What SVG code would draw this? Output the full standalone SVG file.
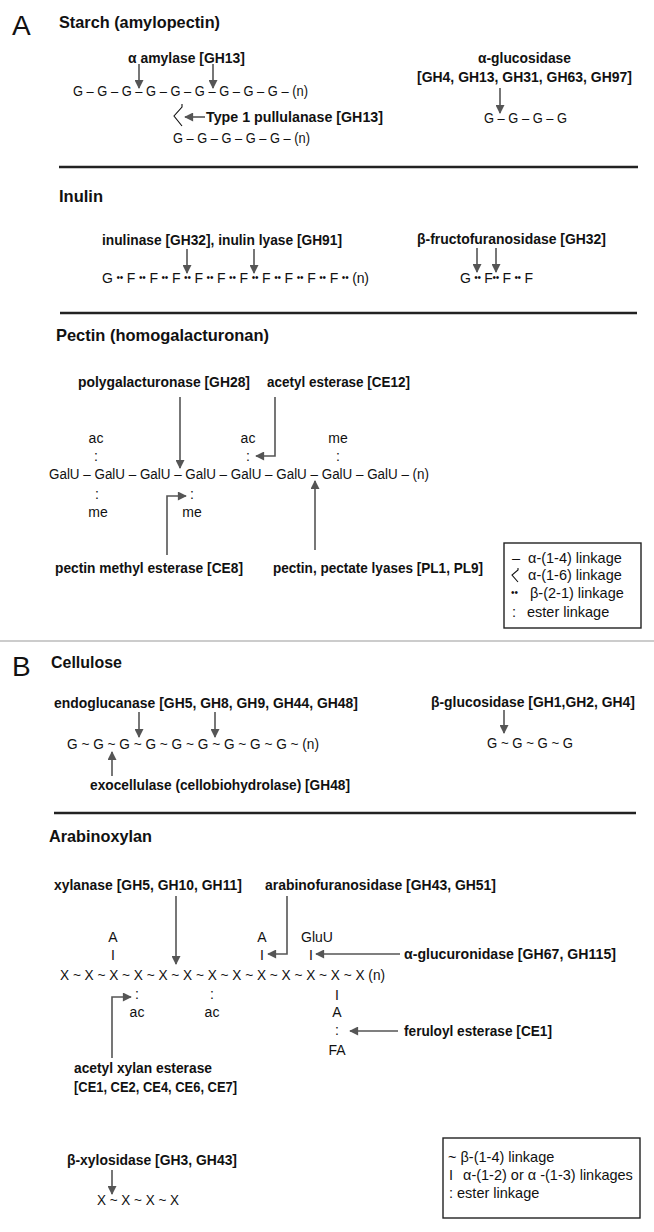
<svg xmlns="http://www.w3.org/2000/svg" width="654" height="1232" viewBox="0 0 654 1232">
<style>
text{font-family:"Liberation Sans",Arial,sans-serif;fill:#111}
.big{font-size:28px}
.h{font-size:17px;font-weight:bold}
.lb{font-size:14.4px;font-weight:bold}
.ch{font-size:14px}
.sm{font-size:14px}
.c{text-anchor:middle}
.lg{font-size:14.5px}
.dot{font-size:10px}
.ar{stroke:#555;stroke-width:1.6;fill:none;marker-end:url(#ah)}
.rule{stroke:#222;stroke-width:2.6}
.box{fill:none;stroke:#222;stroke-width:1.4}
.br{fill:none;stroke:#111;stroke-width:1.1}
</style>
<defs>
<marker id="ah" viewBox="0 0 10 10" refX="9" refY="5" markerWidth="11" markerHeight="9" orient="auto" markerUnits="userSpaceOnUse"><path d="M0,0 L10,5 L0,10 z" fill="#555"/></marker>
</defs>
<rect width="654" height="1232" fill="#fff"/>

<g id="panelA">
<text class="big" x="12" y="35">A</text>
</g>

<g id="starch">
<text class="h" x="59" y="28" textLength="161" lengthAdjust="spacingAndGlyphs">Starch (amylopectin)</text>
<line class="rule" x1="59" y1="167" x2="638" y2="167"/>
</g>
<g id="alpha-amylase"><text class="lb" x="128" y="63" textLength="117" lengthAdjust="spacingAndGlyphs">α amylase [GH13]</text></g>
<g id="starch-chain">
<text class="ch" x="73" y="96" textLength="235" lengthAdjust="spacingAndGlyphs">G – G – G – G – G – G – G – G – G – (n)</text>
<path class="br" d="M182 104 L182 107 L174 116 L182 126"/>
<text class="ch" x="173" y="143" textLength="137" lengthAdjust="spacingAndGlyphs">G – G – G – G – G – (n)</text>
</g>
<g id="pullulanase"><text class="lb" x="206" y="122" textLength="177" lengthAdjust="spacingAndGlyphs">Type 1 pullulanase [GH13]</text></g>
<g id="alpha-glucosidase">
<text class="lb" x="478" y="63" textLength="93" lengthAdjust="spacingAndGlyphs">α-glucosidase</text>
<text class="lb" x="417" y="82" textLength="215" lengthAdjust="spacingAndGlyphs">[GH4, GH13, GH31, GH63, GH97]</text>
</g>
<g id="glc-chain"><text class="ch" x="484" y="123" textLength="83" lengthAdjust="spacingAndGlyphs">G – G – G – G</text></g>

<g id="inulin">
<text class="h" x="59" y="202" textLength="44" lengthAdjust="spacingAndGlyphs">Inulin</text>
<line class="rule" x1="60" y1="313" x2="637" y2="313"/>
</g>
<g id="inulinase"><text class="lb" x="102" y="245" textLength="240" lengthAdjust="spacingAndGlyphs">inulinase [GH32], inulin lyase [GH91]</text></g>
<g id="inulin-chain"><text class="ch" x="102" y="283" textLength="267">G <tspan class="dot" baseline-shift="2">••</tspan> F <tspan class="dot" baseline-shift="2">••</tspan> F <tspan class="dot" baseline-shift="2">••</tspan> F <tspan class="dot" baseline-shift="2">••</tspan> F <tspan class="dot" baseline-shift="2">••</tspan> F <tspan class="dot" baseline-shift="2">••</tspan> F <tspan class="dot" baseline-shift="2">••</tspan> F <tspan class="dot" baseline-shift="2">••</tspan> F <tspan class="dot" baseline-shift="2">••</tspan> F <tspan class="dot" baseline-shift="2">••</tspan> F <tspan class="dot" baseline-shift="2">••</tspan> (n)</text></g>
<g id="fructofuranosidase"><text class="lb" x="417" y="244" textLength="189" lengthAdjust="spacingAndGlyphs">β-fructofuranosidase [GH32]</text></g>
<g id="fru-chain"><text class="ch" x="460" y="283" textLength="73">G <tspan class="dot" baseline-shift="2">••</tspan> F<tspan class="dot" baseline-shift="2">••</tspan> F <tspan class="dot" baseline-shift="2">••</tspan> F</text></g>

<g id="pectin">
<text class="h" x="56" y="341" textLength="213" lengthAdjust="spacingAndGlyphs">Pectin (homogalacturonan)</text>
</g>
<g id="polygalacturonase"><text class="lb" x="78" y="387" textLength="172" lengthAdjust="spacingAndGlyphs">polygalacturonase [GH28]</text></g>
<g id="acetyl-esterase"><text class="lb" x="267" y="387" textLength="143" lengthAdjust="spacingAndGlyphs">acetyl esterase [CE12]</text></g>
<g id="pectin-chain">
<text class="sm c" x="96" y="443">ac</text>
<text class="sm c" x="248" y="443">ac</text>
<text class="sm c" x="338" y="443">me</text>
<text class="sm c" x="96" y="461">:</text>
<text class="sm c" x="248" y="461">:</text>
<text class="sm c" x="338" y="461">:</text>
<text class="ch" x="49" y="479" textLength="380" lengthAdjust="spacingAndGlyphs">GalU – GalU – GalU – GalU – GalU – GalU – GalU – GalU – (n)</text>
<text class="sm c" x="97" y="499">:</text>
<text class="sm c" x="192" y="499">:</text>
<text class="sm c" x="98" y="517">me</text>
<text class="sm c" x="192" y="517">me</text>
</g>
<g id="pectin-methyl-esterase"><text class="lb" x="55" y="573" textLength="188" lengthAdjust="spacingAndGlyphs">pectin methyl esterase [CE8]</text></g>
<g id="pectate-lyases"><text class="lb" x="273" y="573" textLength="210" lengthAdjust="spacingAndGlyphs">pectin, pectate lyases [PL1, PL9]</text></g>
<g id="legendA">
<rect class="box" x="504" y="543" width="137" height="85"/>
<text class="lg" x="512" y="563">–</text>
<text class="lg" x="528" y="563">α-(1-4) linkage</text>
<path class="br" d="M518 568 L518 570 L512 575 L518 582"/>
<text class="lg" x="528" y="580">α-(1-6) linkage</text>
<text class="lg" x="511" y="598"><tspan class="dot" baseline-shift="2">••</tspan></text>
<text class="lg" x="530" y="598">β-(2-1) linkage</text>
<text class="lg" x="512" y="617">:</text>
<text class="lg" x="527" y="617">ester linkage</text>
</g>

<line x1="0" y1="641" x2="654" y2="641" stroke="#999" stroke-width="1.2"/>

<g id="panelB">
<text class="big" x="12" y="676">B</text>
</g>
<g id="cellulose">
<text class="h" x="51" y="668" textLength="71" lengthAdjust="spacingAndGlyphs">Cellulose</text>
<line class="rule" x1="54" y1="813" x2="636" y2="813"/>
</g>
<g id="endoglucanase"><text class="lb" x="54" y="708" textLength="304" lengthAdjust="spacingAndGlyphs">endoglucanase [GH5, GH8, GH9, GH44, GH48]</text></g>
<g id="cellulose-chain"><text class="ch" x="67" y="749" textLength="252" lengthAdjust="spacingAndGlyphs">G ~ G ~ G ~ G ~ G ~ G ~ G ~ G ~ G ~ (n)</text></g>
<g id="exocellulase"><text class="lb" x="90" y="790" textLength="260" lengthAdjust="spacingAndGlyphs">exocellulase (cellobiohydrolase) [GH48]</text></g>
<g id="beta-glucosidase"><text class="lb" x="431" y="707" textLength="204" lengthAdjust="spacingAndGlyphs">β-glucosidase [GH1,GH2, GH4]</text></g>
<g id="cellobiose-chain"><text class="ch" x="487" y="748" textLength="86" lengthAdjust="spacingAndGlyphs">G ~ G ~ G ~ G</text></g>

<g id="arabinoxylan">
<text class="h" x="49" y="842" textLength="103" lengthAdjust="spacingAndGlyphs">Arabinoxylan</text>
</g>
<g id="xylanase"><text class="lb" x="54" y="890" textLength="188" lengthAdjust="spacingAndGlyphs">xylanase [GH5, GH10, GH11]</text></g>
<g id="arabinofuranosidase"><text class="lb" x="265" y="890" textLength="231" lengthAdjust="spacingAndGlyphs">arabinofuranosidase [GH43, GH51]</text></g>
<g id="xylan-chain">
<text class="sm c" x="113" y="942">A</text>
<text class="sm c" x="113" y="960">I</text>
<text class="sm c" x="262" y="942">A</text>
<text class="sm c" x="262" y="960">I</text>
<text class="sm c" x="317" y="942">GluU</text>
<text class="sm c" x="311" y="960">I</text>
<text class="ch" x="60" y="980" textLength="325" lengthAdjust="spacingAndGlyphs">X ~ X ~ X ~ X ~ X ~ X ~ X ~ X ~ X ~ X ~ X ~ X ~ X (n)</text>
<text class="sm c" x="137" y="999">:</text>
<text class="sm c" x="212" y="999">:</text>
<text class="sm c" x="337" y="1000">I</text>
<text class="sm c" x="137" y="1017">ac</text>
<text class="sm c" x="212" y="1017">ac</text>
<text class="sm c" x="337" y="1017">A</text>
<text class="sm c" x="337" y="1035">:</text>
<text class="sm c" x="337" y="1055">FA</text>
</g>
<g id="glucuronidase"><text class="lb" x="404" y="959" textLength="212" lengthAdjust="spacingAndGlyphs">α-glucuronidase [GH67, GH115]</text></g>
<g id="feruloyl-esterase"><text class="lb" x="404" y="1036" textLength="148" lengthAdjust="spacingAndGlyphs">feruloyl esterase [CE1]</text></g>
<g id="acetyl-xylan-esterase">
<text class="lb" x="74" y="1073" textLength="138" lengthAdjust="spacingAndGlyphs">acetyl xylan esterase</text>
<text class="lb" x="74" y="1092" textLength="163" lengthAdjust="spacingAndGlyphs">[CE1, CE2, CE4, CE6, CE7]</text>
</g>
<g id="beta-xylosidase"><text class="lb" x="67" y="1165" textLength="170" lengthAdjust="spacingAndGlyphs">β-xylosidase [GH3, GH43]</text></g>
<g id="xylo-chain"><text class="ch" x="97" y="1205" textLength="82" lengthAdjust="spacingAndGlyphs">X ~ X ~ X ~ X</text></g>
<g id="legendB">
<rect class="box" x="443" y="1138" width="197" height="80"/>
<text class="lg" x="448" y="1162">~ β-(1-4) linkage</text>
<text class="lg" x="449" y="1180">I</text>
<text class="lg" x="463" y="1180">α-(1-2) or α -(1-3) linkages</text>
<text class="lg" x="449" y="1198">:  ester linkage</text>
</g>

<g id="connectors">
<line class="ar" x1="139" y1="64" x2="139" y2="88"/>
<line class="ar" x1="213" y1="64" x2="213" y2="88"/>
<line class="ar" x1="205" y1="117" x2="185" y2="117"/>
<line class="ar" x1="500" y1="88" x2="500" y2="113"/>
<line class="ar" x1="187" y1="249" x2="187" y2="273"/>
<line class="ar" x1="254" y1="249" x2="254" y2="273"/>
<line class="ar" x1="477" y1="248" x2="477" y2="272"/>
<line class="ar" x1="496" y1="248" x2="496" y2="272"/>
<line class="ar" x1="180" y1="397" x2="180" y2="468"/>
<polyline class="ar" points="275,397 275,456 256,456"/>
<polyline class="ar" points="167,555 167,496 186,496"/>
<line class="ar" x1="315" y1="550" x2="315" y2="481"/>
<line class="ar" x1="139" y1="712" x2="139" y2="737"/>
<line class="ar" x1="215" y1="712" x2="215" y2="737"/>
<line class="ar" x1="112" y1="776" x2="112" y2="752"/>
<line class="ar" x1="504" y1="710" x2="504" y2="733"/>
<line class="ar" x1="176" y1="896" x2="176" y2="964"/>
<polyline class="ar" points="287,896 287,954 268,954"/>
<line class="ar" x1="400" y1="954" x2="316" y2="954"/>
<polyline class="ar" points="112,1058 112,997 131,997"/>
<line class="ar" x1="398" y1="1031" x2="350" y2="1031"/>
<line class="ar" x1="112" y1="1170" x2="112" y2="1194"/>
</g>
</svg>
